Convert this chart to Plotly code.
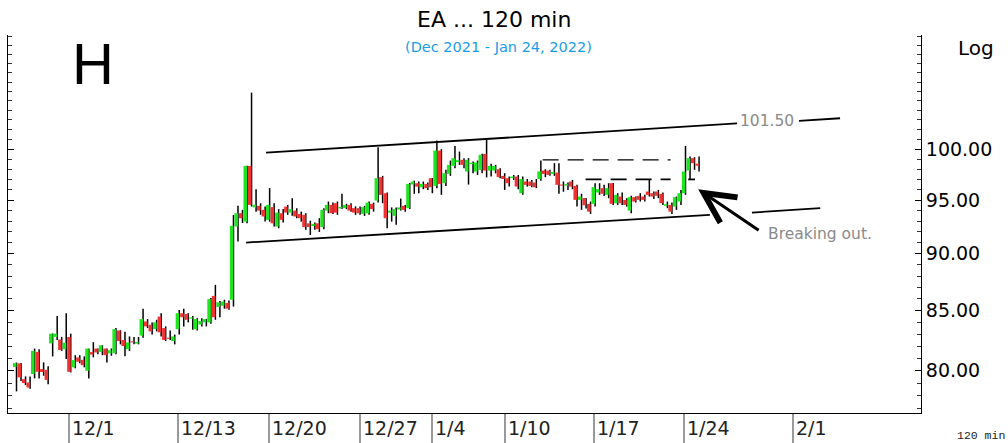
import math
import plotly.graph_objects as go

# ---------------- data ----------------
opens = [80.28, 80.58, 79.31, 79.05, 79.72, 81.52, 80.12, 80.06, 82.22, 82.76,
         82.54, 81.74, 82.76, 80.26, 81.07, 80.87, 79.98, 81.50, 81.79, 81.52,
         81.79, 81.40, 81.41, 83.30, 82.50, 81.74, 82.40, 82.20, 82.87, 84.06,
         83.78, 83.42, 84.47, 83.50, 82.70, 82.41, 83.41, 84.76, 84.70, 84.30,
         83.41, 83.80, 83.98, 83.98, 86.25, 85.30, 85.40, 85.64, 85.92, 92.50,
         93.75, 92.96, 98.33, 94.30, 94.45, 94.07, 93.12, 94.33, 92.50, 93.75,
         94.38, 93.81, 94.00, 93.68, 93.60, 92.80, 92.55, 92.80, 92.45, 94.00,
         94.54, 94.70, 94.20, 94.23, 94.54, 94.23, 94.23, 93.70, 93.75, 94.64,
         94.95, 97.22, 95.66, 93.80, 93.50, 94.10, 94.45, 94.23, 96.50, 96.63,
         96.24, 96.56, 97.12, 96.37, 99.86, 96.63, 97.54, 98.33, 98.70, 98.93,
         97.77, 98.50, 97.77, 97.94, 99.53, 97.87, 97.87, 98.00, 97.35, 97.12,
         97.12, 97.28, 95.66, 96.79, 96.79, 96.70, 97.04, 97.87, 97.87, 97.54,
         97.67, 96.50, 96.40, 96.79, 96.37, 95.02, 95.20, 94.64, 94.64, 95.72,
         96.15, 95.50, 96.63, 94.70, 95.34, 95.02, 94.00, 95.28, 95.41, 95.34,
         95.82, 95.66, 95.82, 95.60, 94.45, 94.54, 94.38, 94.86, 95.66, 97.87,
         99.10, 98.55]
highs = [80.65, 80.62, 79.53, 79.53, 81.79, 81.74, 80.66, 80.34, 83.05, 84.53,
         82.76, 84.76, 83.03, 81.25, 81.25, 81.15, 81.80, 82.32, 81.80, 82.07,
         81.80, 81.80, 83.50, 83.32, 83.19, 82.80, 82.76, 82.76, 85.15, 84.26,
         83.98, 84.20, 84.76, 83.64, 83.30, 82.95, 85.04, 85.15, 84.76, 84.53,
         84.34, 84.34, 84.28, 86.06, 87.22, 85.80, 85.92, 85.85, 93.59, 94.45,
         94.07, 98.35, 105.87, 96.05, 94.70, 94.38, 96.15, 94.70, 94.14, 94.14,
         94.54, 95.18, 94.23, 93.90, 93.75, 93.05, 92.87, 93.28, 94.23, 94.86,
         94.76, 94.86, 95.60, 94.64, 94.70, 94.40, 94.38, 94.45, 94.86, 94.76,
         100.20, 97.35, 95.72, 94.30, 94.30, 95.15, 94.54, 96.66, 96.88, 96.79,
         96.79, 96.70, 97.13, 100.87, 100.00, 97.94, 98.86, 100.33, 99.76, 99.10,
         99.10, 98.77, 98.86, 99.53, 100.94, 98.54, 98.43, 98.10, 97.61, 97.28,
         97.44, 97.44, 97.28, 97.04, 96.95, 97.04, 98.86, 98.00, 97.94, 98.60,
         98.60, 96.80, 96.70, 96.95, 96.47, 95.60, 95.20, 94.86, 96.63, 96.63,
         96.47, 96.63, 96.65, 95.66, 95.72, 95.18, 95.41, 95.34, 95.66, 95.50,
         96.95, 95.82, 95.98, 95.72, 94.86, 94.76, 95.34, 95.98, 100.33, 99.26,
         99.20, 99.26]
lows = [78.34, 79.17, 78.83, 78.55, 79.37, 79.37, 79.58, 78.91, 81.15, 82.50,
        81.60, 80.93, 79.85, 80.18, 80.60, 80.26, 79.37, 81.07, 81.33, 81.25,
        80.66, 81.20, 81.33, 82.14, 81.17, 81.60, 82.14, 82.14, 82.68, 83.50,
        82.95, 83.22, 82.80, 82.41, 82.50, 82.14, 82.95, 83.64, 83.98, 83.36,
        83.30, 83.64, 83.64, 83.87, 84.20, 84.42, 85.15, 85.06, 85.33, 91.11,
        92.83, 92.80, 94.38, 93.90, 93.60, 92.96, 92.96, 92.50, 92.34, 92.87,
        93.60, 93.50, 93.28, 92.96, 92.20, 91.72, 92.20, 92.00, 92.25, 93.75,
        93.68, 93.60, 94.14, 94.14, 93.90, 93.60, 93.60, 93.50, 93.60, 93.90,
        94.76, 94.70, 92.35, 92.96, 92.66, 94.00, 93.90, 94.14, 95.60, 95.66,
        96.05, 95.98, 95.66, 96.15, 95.50, 96.37, 97.35, 98.10, 98.43, 98.10,
        96.50, 97.60, 97.44, 97.60, 97.20, 97.28, 97.60, 97.12, 95.98, 96.30,
        96.95, 96.05, 95.50, 96.30, 96.24, 96.15, 96.88, 97.22, 97.35, 97.35,
        95.60, 95.80, 95.98, 96.05, 94.38, 94.07, 94.20, 93.68, 94.38, 95.50,
        95.40, 95.18, 94.54, 94.54, 94.54, 94.38, 93.75, 94.76, 94.86, 94.86,
        95.34, 95.10, 95.18, 94.54, 94.23, 93.68, 94.07, 94.54, 95.50, 96.95,
        97.94, 97.77]
closes = [80.60, 79.45, 78.99, 78.64, 81.60, 79.90, 79.88, 79.25, 83.03, 83.03,
          81.68, 82.28, 79.90, 80.85, 80.71, 80.44, 81.79, 81.30, 81.47, 82.06,
          81.25, 81.65, 83.41, 82.41, 82.00, 82.30, 82.30, 82.35, 84.26, 83.64,
          83.22, 83.98, 83.14, 82.50, 82.60, 82.80, 84.76, 84.42, 84.20, 84.40,
          84.26, 84.10, 84.26, 85.97, 84.42, 85.70, 85.76, 85.15, 92.56, 93.75,
          93.28, 98.33, 94.54, 94.55, 94.00, 93.44, 94.54, 92.80, 93.81, 93.12,
          93.81, 94.14, 93.44, 93.28, 92.45, 92.45, 92.75, 92.25, 94.07, 94.54,
          93.75, 93.81, 94.35, 94.54, 94.00, 93.81, 93.75, 94.33, 94.76, 94.14,
          97.12, 95.50, 93.28, 94.00, 94.14, 94.30, 94.07, 96.56, 96.79, 96.30,
          96.56, 96.15, 96.24, 99.86, 96.56, 97.61, 98.43, 99.10, 98.90, 98.43,
          98.93, 98.65, 98.67, 99.43, 97.87, 98.33, 98.33, 97.22, 97.04, 96.63,
          97.28, 96.30, 97.04, 96.47, 96.37, 96.24, 97.79, 97.54, 97.44, 97.74,
          96.47, 96.40, 96.55, 96.30, 95.02, 95.34, 94.50, 93.90, 96.24, 96.05,
          95.60, 96.15, 94.64, 95.50, 94.70, 94.54, 95.28, 94.86, 95.02, 95.02,
          95.50, 95.34, 95.41, 94.70, 94.60, 93.90, 95.28, 95.66, 97.77, 99.10,
          98.60, 98.35]
bar_index = list(range(len(opens)))

date_ticks = [12.0, 36.2, 56.3, 76.4, 92.3, 108.5, 128.2, 148.1, 172.1]
date_labels = ["12/1", "12/13", "12/20", "12/27", "1/4", "1/10", "1/17", "1/24", "2/1"]

price_ticks = [80, 85, 90, 95, 100]
price_labels = ["80.00", "85.00", "90.00", "95.00", "100.00"]
minor_ticks = [v for v in range(77, 113) if v not in price_ticks]

# drawn trend lines: (bar index, price)
upper_channel_x = [55.6, 159.8, None, 173.5, 182.6]
upper_channel_y = [99.66, 102.63, None, 102.89, 103.17]
lower_channel_x = [51.2, 153.8, None, 163.1, 178.2]
lower_channel_y = [91.02, 93.60, None, 93.81, 94.23]
resistance_x = [116.8, 145.1]
resistance_y = [98.93, 98.93]
support_x = [126.3, 145.1, None, 149.0, 150.5]
support_y = [97.0, 97.0, None, 97.0, 97.0]
breakout_point = (151.2, 96.05)

UP = "#1ee61e"
DOWN = "#f03232"

# ---------------- build candles ----------------
wick_x, wick_y = [], []
up_x, up_y, dn_x, dn_y = [], [], [], []
for i, o, h, l, c in zip(bar_index, opens, highs, lows, closes):
    wick_x += [i + 0.4, i + 0.4, None]
    wick_y += [l, h, None]
    if c >= o:
        up_x += [i, i, None]
        up_y += [o, c, None]
    else:
        dn_x += [i, i, None]
        dn_y += [o, c, None]

fig = go.Figure()
fig.add_trace(go.Scatter(x=wick_x, y=wick_y, mode="lines",
                         line=dict(color="black", width=1.5), hoverinfo="skip"))
fig.add_trace(go.Scatter(x=up_x, y=up_y, mode="lines",
                         line=dict(color=UP, width=3.5), hoverinfo="skip"))
fig.add_trace(go.Scatter(x=dn_x, y=dn_y, mode="lines",
                         line=dict(color=DOWN, width=3.5), hoverinfo="skip"))

fig.add_trace(go.Scatter(x=upper_channel_x, y=upper_channel_y, mode="lines",
                         line=dict(color="black", width=1.8), hoverinfo="skip"))
fig.add_trace(go.Scatter(x=lower_channel_x, y=lower_channel_y, mode="lines",
                         line=dict(color="black", width=1.8), hoverinfo="skip"))
fig.add_trace(go.Scatter(x=resistance_x, y=resistance_y, mode="lines",
                         line=dict(color="black", width=1.4, dash="16px,9px"), hoverinfo="skip"))
fig.add_trace(go.Scatter(x=support_x, y=support_y, mode="lines",
                         line=dict(color="black", width=1.8, dash="16px,9px"), hoverinfo="skip"))

# ---------------- layout ----------------
L, R, T, B = 8, 87, 35, 30
W, H = 1008, 443
PW, PH = W - L - R, H - T - B


def px_x(p):
    return (p - L) / PW


def px_y(p):
    return (H - B - p) / PH


fig.update_layout(
    width=W, height=H,
    margin=dict(l=L, r=R, t=T, b=B, autoexpand=False),
    paper_bgcolor="white", plot_bgcolor="white",
    showlegend=False,
    xaxis=dict(range=[-1.48, 200.5], showgrid=False, zeroline=False,
               automargin=False,
               showline=True, linecolor="black", linewidth=1,
               tickmode="array", tickvals=date_ticks, ticks="outside",
               ticklen=30, tickcolor="#9a9a9a", tickwidth=1.5,
               showticklabels=False),
    yaxis=dict(type="log", range=[1.8845, 2.0500], side="right",
               automargin=False,
               showgrid=False, zeroline=False, showline=True,
               linecolor="black", linewidth=1, mirror="ticks",
               tickmode="array", tickvals=price_ticks, ticktext=price_labels,
               ticks="inside", ticklen=6, tickcolor="black", tickwidth=1,
               tickfont=dict(family="DejaVu Sans", size=19, color="black"),
               minor=dict(tickmode="array", tickvals=minor_ticks,
                          ticks="inside", ticklen=4, tickcolor="#333333")),
)

ann = []
for tv, tl in zip(date_ticks, date_labels):
    ann.append(dict(x=tv, xref="x", y=px_y(428), yref="paper", text=tl,
                    showarrow=False, xanchor="left", yanchor="middle", xshift=1,
                    font=dict(family="DejaVu Sans", size=19, color="#222222")))

ann += [
    dict(x=px_x(493.5), y=px_y(20), xref="paper", yref="paper",
         text="EA ... 120 min", showarrow=False, xanchor="center", yanchor="middle",
         font=dict(family="DejaVu Sans", size=22, color="black")),
    dict(x=px_x(498), y=px_y(47), xref="paper", yref="paper",
         text="(Dec 2021 - Jan 24, 2022)", showarrow=False, xanchor="center",
         yanchor="middle", font=dict(family="DejaVu Sans", size=14.5, color="#1a9de8")),
    dict(x=px_x(70), y=px_y(63.5), xref="paper", yref="paper", text="H",
         showarrow=False, xanchor="left", yanchor="middle",
         font=dict(family="Liberation Sans", size=58, color="black")),
    dict(x=px_x(956), y=px_y(48), xref="paper", yref="paper", text="Log",
         showarrow=False, xanchor="left", yanchor="middle",
         font=dict(family="DejaVu Sans", size=20, color="black")),
    dict(x=px_x(955), y=px_y(435), xref="paper", yref="paper", text="120 min",
         showarrow=False, xanchor="left", yanchor="middle",
         font=dict(family="Liberation Mono", size=11.5, color="#222222")),
    dict(x=px_x(766.5), y=px_y(120.8), xref="paper", yref="paper", text="101.50",
         showarrow=False, xanchor="center", yanchor="middle",
         font=dict(family="DejaVu Sans", size=15.5, color="#8a8a8a")),
    dict(x=px_x(820), y=px_y(234), xref="paper", yref="paper", text="Breaking out.",
         showarrow=False, xanchor="center", yanchor="middle",
         font=dict(family="DejaVu Sans", size=15.5, color="#8a8a8a")),
    dict(x=breakout_point[0], y=math.log10(breakout_point[1]), xref="x", yref="y",
         text="", showarrow=True, ax=62, ay=42, axref="pixel", ayref="pixel",
         arrowhead=5, arrowsize=2, arrowwidth=3, arrowcolor="black", standoff=0),
]
fig.update_layout(annotations=ann)

# the page's default 8px body margin would shift the figure; remove it
fig.write_html("out.html", config={"displayModeBar": False},
               post_script="document.body.style.margin='0px';")
